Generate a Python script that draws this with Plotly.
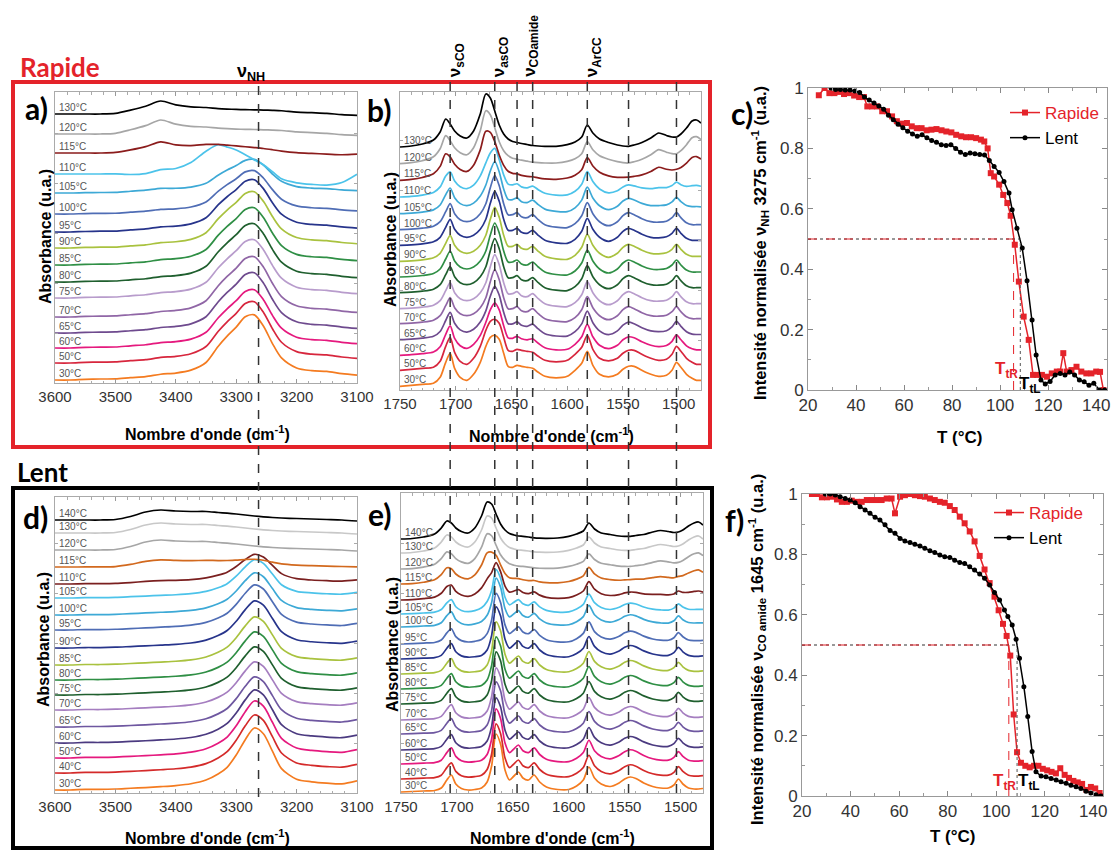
import plotly.graph_objects as go

FIG_W, FIG_H = 1111, 850
FONT = "Liberation Sans, Arial, sans-serif"
TITLE_FONT = "Lato, Liberation Sans, sans-serif"
RED = "#E4232A"

# ---------------- NH stretching region (panels a and d) ----------------
WN_NH = [3600, 3575, 3550, 3525, 3500, 3475, 3450, 3425, 3400, 3375, 3350, 3330,
         3315, 3300, 3285, 3270, 3255, 3240, 3225, 3200, 3175, 3150, 3125, 3100]
NH_BONDED_A = [0, 0, 0.01, 0.015, 0.015, 0.025, 0.03, 0.05, 0.08, 0.13, 0.25, 0.5,
               0.66, 0.8, 0.96, 0.99, 0.82, 0.55, 0.33, 0.18, 0.14, 0.13, 0.1, 0.08]
NH_SHIFT_A = [0, 0, 0, 0, 0, -0.05, -0.05, 0.05, 0.12, 0.35, 0.76, 1.0,
              0.92, 0.82, 0.65, 0.47, 0.3, 0.05, -0.2, -0.33, -0.38, -0.4, -0.3, 0.0]
NH_FREE_A = [0, 0, 0, 0, 0.05, 0.3, 0.6, 1.0, 0.7, 0.55, 0.5, 0.42,
             0.38, 0.35, 0.33, 0.32, 0.3, 0.28, 0.25, 0.15, 0.1, 0.05, -0.05, -0.1]
NH_BONDED_D = [0, 0, 0.01, 0.01, 0.015, 0.02, 0.02, 0.03, 0.05, 0.08, 0.14, 0.24,
               0.35, 0.55, 0.8, 0.99, 0.9, 0.62, 0.34, 0.17, 0.13, 0.11, 0.1, 0.15]
NH_FREE_D = [0, 0, 0, 0, 0.05, 0.35, 0.8, 1.0, 0.9, 0.85, 0.85, 0.75,
             0.68, 0.6, 0.5, 0.4, 0.32, 0.25, 0.2, 0.15, 0.1, 0.05, 0, -0.1]

# ---------------- carbonyl / aromatic region (panels b and e) ----------------
WN_CO = [1750, 1740, 1730, 1720, 1714, 1709, 1705, 1701, 1696, 1690, 1684, 1678,
         1673, 1669, 1665, 1661, 1657, 1653, 1649, 1645, 1641, 1636, 1631, 1626,
         1620, 1610, 1600, 1593, 1587, 1582, 1577, 1571, 1563, 1555, 1550, 1545,
         1540, 1533, 1525, 1518, 1511, 1506, 1502, 1498, 1493, 1488, 1484, 1480]
CO_LOW_B = [0, 0.1, 0.2, 0.3, 0.9, 2.4, 3.3, 1.8, 0.9, 0.6, 1.2, 2.4,
            4.0, 4.9, 5.1, 4.7, 3.3, 2.0, 1.9, 2.1, 2.0, 1.9, 1.8, 1.4,
            1.0, 0.85, 1.0, 1.6, 2.3, 3.5, 2.1, 1.2, 0.95, 1.2, 1.7, 2.0,
            2.0, 1.6, 1.2, 1.0, 1.1, 1.6, 2.4, 1.9, 1.2, 0.8, 0.6, 0.6]
CO_MID_B = [0, 0.05, 0.15, 0.35, 0.8, 1.8, 2.6, 1.6, 1.0, 0.8, 1.0, 1.6,
            2.6, 4.2, 5.4, 4.4, 2.6, 1.5, 1.5, 1.7, 1.3, 1.2, 1.5, 1.0,
            0.5, 0.25, 0.2, 0.6, 1.4, 2.7, 1.6, 0.8, 0.4, 0.8, 1.4, 1.7,
            1.5, 1.1, 0.8, 0.75, 0.85, 1.2, 1.7, 1.2, 0.7, 0.5, 0.5, 0.5]
CO_HIGH_B = [0, 0.1, 0.3, 0.7, 1.5, 2.8, 2.3, 1.6, 1.1, 0.9, 1.6, 3.3,
             5.3, 4.9, 3.6, 2.2, 1.3, 0.8, 0.55, 0.45, 0.35, 0.25, 0.15, 0.1,
             0.07, 0.07, 0.23, 0.5, 1.0, 2.2, 1.4, 0.8, 0.45, 0.2, 0.1, 0.07,
             0.2, 0.45, 0.9, 1.4, 1.15, 1.0, 1.0, 1.3, 1.9, 2.6, 2.7, 2.4]
CO_LOW_E = [0, 0.05, 0.1, 0.15, 0.4, 1.2, 1.7, 0.8, 0.35, 0.2, 0.25, 0.4,
            1.0, 2.6, 5.8, 4.8, 2.2, 1.2, 1.6, 2.0, 1.4, 1.2, 1.7, 1.0,
            0.5, 0.25, 0.25, 0.6, 1.2, 2.5, 1.4, 0.8, 0.55, 0.9, 1.3, 1.5,
            1.35, 0.9, 0.55, 0.4, 0.4, 0.7, 1.3, 0.8, 0.4, 0.3, 0.3, 0.35]
CO_HIGH_E = [0, 0.05, 0.2, 0.5, 1.1, 1.8, 1.6, 1.1, 0.75, 0.6, 1.1, 2.3,
             3.7, 3.5, 2.5, 1.5, 0.9, 0.55, 0.4, 0.3, 0.27, 0.2, 0.12, 0.08,
             0.07, 0.1, 0.27, 0.5, 0.8, 1.6, 1.0, 0.6, 0.45, 0.3, 0.27, 0.27,
             0.35, 0.45, 0.7, 0.85, 0.75, 0.65, 0.7, 0.9, 1.3, 1.6, 1.7, 1.4]

# ---------------- "Rapide" spectra (panels a, b) ----------------
TEMPS_A = [30, 50, 60, 65, 70, 75, 80, 85, 90, 95, 100, 105, 110, 115, 120, 130]
COLORS_A = ["#F47B20", "#D7263D", "#E5197E", "#6E4A8E", "#9066A6", "#B89CCC",
            "#1F5F2E", "#2F8F45", "#A9C23F", "#27348B", "#4F6DB5", "#3DA9D6",
            "#4CC3EA", "#8B1C1C", "#A6A6A6", "#000000"]
OFFSET_A = [0.3, 2.0, 3.5, 5.0, 6.6, 8.5, 10.1, 11.8, 13.5, 15.1, 16.9, 19.0, 20.9, 23.0, 24.9, 26.9]
BONDED_AMP_A = [6.5, 6.1, 5.8, 6.0, 6.0, 5.8, 5.8, 5.7, 5.6, 5.2, 4.3, 3.3, 0.0, 0.0, 0.0, 0.0]
SHIFT_AMP_A = [0, 0, 0, 0, 0, 0, 0, 0, 0, 0, 0, 0, 2.8, 0.4, 0, 0]
FREE_AMP_A = [0.25, 0.25, 0.25, 0.25, 0.25, 0.25, 0.25, 0.25, 0.25, 0.25, 0.25, 0.3, 0.3, 1.1, 1.4, 1.3]
OFFSET_B = [0.37, 1.97, 3.47, 5.03, 6.63, 8.13, 9.73, 11.3, 12.87, 14.47, 16.03, 17.63, 19.3, 20.97, 22.63, 24.3]
W_LOW_B = [1.0, 1.0, 0.5, 0.2, 0, 0, 0, 0, 0, 0, 0, 0, 0, 0, 0, 0]
W_MID_B = [0, 0, 0.5, 0.8, 1, 1, 1, 1, 1, 1, 1, 0.9, 0.7, 0.15, 0, 0]
W_HIGH_B = [0, 0, 0, 0, 0, 0, 0, 0, 0, 0, 0, 0.1, 0.3, 0.85, 1.0, 1.0]

# ---------------- "Lent" spectra (panels d, e) ----------------
TEMPS_D = [30, 40, 50, 60, 65, 70, 75, 80, 85, 90, 95, 100, 105, 110, 115, 120, 130, 140]
COLORS_D = ["#F47B20", "#D42A2A", "#E5197E", "#4B3A80", "#6E57A0", "#A57EC0",
            "#1F5F2E", "#2F8F45", "#A9C23F", "#27348B", "#4F6DB5", "#3DA9D6",
            "#4CC3EA", "#7A1F1F", "#D2691E", "#A6A6A6", "#C8C8C8", "#000000"]
OFFSET_D = [0.3, 2.0, 3.5, 5.0, 6.6, 8.3, 9.8, 11.3, 12.8, 14.5, 16.3, 17.8, 19.5, 20.9, 22.6, 24.3, 26.0, 27.3]
BONDED_AMP_D = [6.2, 5.8, 5.7, 5.3, 5.0, 4.8, 4.8, 4.8, 4.8, 4.7, 4.5, 4.2, 3.8, 2.9, 0.5, 0, 0, 0]
FREE_AMP_D = [0.15, 0.15, 0.15, 0.15, 0.15, 0.15, 0.15, 0.15, 0.15, 0.15, 0.15, 0.15, 0.15, 0.25, 0.7, 1.0, 1.0, 1.0]
OFFSET_E = [0.1, 1.4, 2.9, 4.3, 5.9, 7.3, 8.9, 10.4, 11.9, 13.4, 14.9, 16.6, 17.9, 19.3, 20.9, 22.4, 24.0, 25.4]
W_LOW_E = [1.0, 0.95, 0.95, 0.9, 0.9, 0.9, 0.9, 0.9, 0.9, 0.9, 0.85, 0.8, 0.7, 0.45, 0.15, 0, 0, 0]
W_HIGH_E = [0, 0, 0, 0, 0, 0, 0, 0, 0, 0, 0.05, 0.1, 0.15, 0.45, 0.8, 0.95, 1.0, 1.0]

# ---------------- band markers ----------------
NH_BAND = 3263
CO_BANDS = [1705, 1665, 1645, 1631, 1582, 1545, 1502]
CO_BAND_LABELS = [(1705, "ν<sub>sCO</sub>"), (1665, "ν<sub>asCO</sub>"),
                  (1638, "ν<sub>COamide</sub>"), (1582, "ν<sub>ArCC</sub>")]

# ---------------- normalised intensities (panels c, f) ----------------
T_C_RAPIDE = [24.5, 26.9, 28.9, 31.0, 33.0, 35.0, 37.0, 39.2, 41.3, 43.3, 44.7, 46.7, 48.8, 50.9,
              52.9, 55.0, 57.0, 59.0, 61.2, 63.2, 65.3, 67.3, 69.4, 71.4, 73.5, 75.6, 77.6, 79.7,
              81.7, 83.8, 85.8, 87.9, 90.0, 92.0, 93.4, 94.8, 96.1, 97.5, 99.6, 101.3, 103.0,
              104.4, 106.1, 107.8, 109.8, 111.9, 113.7, 115.3, 117.4, 119.5, 121.5, 123.6, 125.0,
              126.3, 127.7, 129.7, 131.8, 133.8, 135.9, 138.0, 140.0, 141.6, 143.0]
V_C_RAPIDE = [0.976, 1.0, 0.983, 0.983, 0.987, 0.98, 0.983, 0.975, 0.97, 0.97, 0.939, 0.939, 0.939,
              0.923, 0.923, 0.906, 0.89, 0.882, 0.884, 0.873, 0.867, 0.867, 0.86, 0.862, 0.864,
              0.86, 0.856, 0.853, 0.845, 0.84, 0.837, 0.837, 0.834, 0.829, 0.823, 0.8, 0.718, 0.707,
              0.68, 0.646, 0.619, 0.577, 0.481, 0.359, 0.243, 0.166, 0.05, 0.05, 0.05, 0.044, 0.055,
              0.061, 0.061, 0.122, 0.061, 0.066, 0.077, 0.061, 0.055, 0.055, 0.061, 0.06, 0.0]
T_C_LENT = [29.6, 31.5, 33.5, 35.5, 37.5, 39.5, 41.5, 43.5, 45.5, 47.5, 49.5, 51.5, 53.5, 55.5,
            57.5, 59.5, 61.5, 63.5, 65.5, 67.5, 69.5, 71.5, 73.5, 75.5, 77.5, 79.5, 81.5, 83.5,
            85.5, 87.5, 89.5, 91.5, 93.5, 95.5, 97.5, 99.6, 101.6, 103.7, 105.0, 107.0, 109.2,
            111.2, 113.3, 115.0, 117.0, 118.8, 120.8, 122.9, 125.0, 127.0, 129.0, 131.0, 133.0,
            135.0, 137.0, 139.0, 141.4, 143.5]
V_C_LENT = [1.0, 0.995, 0.995, 0.993, 0.993, 0.99, 0.985, 0.97, 0.96, 0.95, 0.94, 0.93, 0.91,
            0.895, 0.88, 0.868, 0.857, 0.848, 0.84, 0.845, 0.835, 0.826, 0.82, 0.812, 0.81, 0.812,
            0.80, 0.787, 0.78, 0.785, 0.782, 0.78, 0.778, 0.76, 0.74, 0.72, 0.69, 0.652, 0.597,
            0.536, 0.47, 0.362, 0.232, 0.116, 0.033, 0.02, 0.028, 0.05, 0.055, 0.05, 0.06, 0.05,
            0.033, 0.027, 0.016, 0.022, 0.0, 0.0]
T_F_RAPIDE = [24.1, 26.2, 28.2, 30.3, 32.3, 34.4, 36.4, 38.5, 40.5, 42.6, 44.6, 46.7, 48.7, 50.8,
              52.8, 54.9, 56.9, 58.3, 60.4, 62.4, 64.5, 66.5, 68.6, 70.6, 72.7, 74.7, 76.8, 78.8,
              80.9, 82.9, 85.0, 87.0, 89.1, 91.1, 93.2, 95.2, 97.3, 99.3, 101.0, 102.8, 104.3,
              105.8, 107.2, 108.6, 110.2, 112.0, 113.8, 115.6, 117.4, 119.2, 121.0, 122.8, 124.6,
              126.4, 128.2, 130.0, 131.8, 133.6, 135.4, 137.2, 139.0, 140.8, 142.6, 143.5]
V_F_RAPIDE = [1.0, 1.0, 0.989, 0.989, 0.991, 0.982, 0.974, 0.974, 0.978, 0.974, 0.974, 0.98, 0.98,
              0.98, 0.98, 0.985, 0.985, 0.936, 0.991, 0.996, 1.0, 0.996, 0.993, 0.991, 0.985, 0.98,
              0.974, 0.971, 0.96, 0.947, 0.925, 0.903, 0.876, 0.843, 0.795, 0.75, 0.705, 0.66,
              0.615, 0.57, 0.53, 0.465, 0.27, 0.145, 0.11, 0.1, 0.095, 0.1, 0.1, 0.09, 0.085, 0.08,
              0.075, 0.092, 0.07, 0.06, 0.05, 0.045, 0.04, 0.02, 0.03, 0.025, 0.01, 0.0]
T_F_LENT = [29.6, 31.6, 33.7, 35.7, 37.8, 39.8, 41.9, 43.9, 46.0, 48.0, 50.1, 52.1, 54.2, 56.3,
            58.3, 60.4, 62.4, 64.5, 66.5, 68.6, 70.6, 72.7, 74.7, 76.8, 78.8, 80.9, 82.9, 85.0,
            87.0, 89.1, 91.1, 93.2, 95.2, 97.3, 99.3, 101.4, 103.4, 104.8, 106.6, 108.2, 109.6,
            111.4, 113.0, 114.8, 116.4, 118.5, 120.5, 122.6, 124.7, 126.7, 128.8, 130.8, 132.9,
            134.9, 137.0, 139.0, 141.1, 143.1]
V_F_LENT = [1.0, 1.0, 0.997, 0.991, 0.985, 0.98, 0.971, 0.958, 0.947, 0.936, 0.923, 0.914, 0.898,
            0.879, 0.87, 0.853, 0.844, 0.839, 0.834, 0.828, 0.82, 0.812, 0.806, 0.798, 0.792, 0.79,
            0.781, 0.773, 0.77, 0.759, 0.748, 0.735, 0.721, 0.699, 0.674, 0.649, 0.616, 0.594,
            0.566, 0.519, 0.456, 0.362, 0.263, 0.147, 0.08, 0.066, 0.064, 0.058, 0.053, 0.047,
            0.042, 0.036, 0.031, 0.025, 0.016, 0.01, 0.004, 0.0]
T_TRANSITION_C = (105.6, 108.4)
T_TRANSITION_F = (105.2, 108.6)


def px(x):
    return x / FIG_W


def py(y):
    return 1 - y / FIG_H


fig = go.Figure()


def add_spectrum(xs, ys, color, ax):
    fig.add_trace(go.Scatter(
        x=xs, y=ys, mode="lines", showlegend=False, hoverinfo="skip",
        line=dict(color=color, width=1.7, shape="spline", smoothing=0.8),
        xaxis="x" + ax, yaxis="y" + ax))


annotations = []


def temp_label(text, x, y, ax):
    annotations.append(dict(text=text, x=x, y=y, xref="x" + ax, yref="y" + ax,
                            showarrow=False, xanchor="left", yanchor="middle",
                            font=dict(family=FONT, size=10, color="#555")))


# panel a
for i, t in enumerate(TEMPS_A):
    ys = [OFFSET_A[i] + BONDED_AMP_A[i] * b + SHIFT_AMP_A[i] * s + FREE_AMP_A[i] * f
          for b, s, f in zip(NH_BONDED_A, NH_SHIFT_A, NH_FREE_A)]
    add_spectrum(WN_NH, ys, COLORS_A[i], "")
    temp_label(f"{t}°C", 3597, OFFSET_A[i] + 0.65, "")
# panel b
for i, t in enumerate(TEMPS_A):
    ys = [OFFSET_B[i] + W_LOW_B[i] * lo + W_MID_B[i] * mi + W_HIGH_B[i] * hi
          for lo, mi, hi in zip(CO_LOW_B, CO_MID_B, CO_HIGH_B)]
    add_spectrum(WN_CO, ys, COLORS_A[i], "2")
    temp_label(f"{t}°C", 1748, OFFSET_B[i] + 0.65, "2")
# panel d
for i, t in enumerate(TEMPS_D):
    ys = [OFFSET_D[i] + BONDED_AMP_D[i] * b + FREE_AMP_D[i] * f
          for b, f in zip(NH_BONDED_D, NH_FREE_D)]
    add_spectrum(WN_NH, ys, COLORS_D[i], "4")
    temp_label(f"{t}°C", 3597, OFFSET_D[i] + 0.65, "4")
# panel e
for i, t in enumerate(TEMPS_D):
    ys = [OFFSET_E[i] + W_LOW_E[i] * lo + W_HIGH_E[i] * hi
          for lo, hi in zip(CO_LOW_E, CO_HIGH_E)]
    add_spectrum(WN_CO, ys, COLORS_D[i], "5")
    temp_label(f"{t}°C", 1748, OFFSET_E[i] + 0.65, "5")


def add_kinetics(t_r, v_r, t_l, v_l, ax, legend):
    fig.add_trace(go.Scatter(
        x=t_r, y=v_r, mode="lines+markers", name=f'<span style="color:{RED}">Rapide</span>',
        line=dict(color=RED, width=1.5), marker=dict(symbol="square", size=6, color=RED),
        xaxis="x" + ax, yaxis="y" + ax, legend=legend))
    fig.add_trace(go.Scatter(
        x=t_l, y=v_l, mode="lines+markers", name="Lent",
        line=dict(color="#000", width=1.5), marker=dict(symbol="circle", size=5, color="#000"),
        xaxis="x" + ax, yaxis="y" + ax, legend=legend))


add_kinetics(T_C_RAPIDE, V_C_RAPIDE, T_C_LENT, V_C_LENT, "3", "legend")
add_kinetics(T_F_RAPIDE, V_F_RAPIDE, T_F_LENT, V_F_LENT, "6", "legend2")

shapes = []
# group frames
shapes.append(dict(type="rect", xref="paper", yref="paper", x0=px(13), x1=px(710),
                   y0=py(447), y1=py(82), line=dict(color=RED, width=4)))
shapes.append(dict(type="rect", xref="paper", yref="paper", x0=px(13), x1=px(712),
                   y0=py(848), y1=py(488), line=dict(color="#000", width=4)))
# band dashed lines
shapes.append(dict(type="line", xref="x", yref="paper", x0=NH_BAND, x1=NH_BAND,
                   y0=py(86), y1=py(797), line=dict(color="#333", width=1.5, dash="dash")))
for wn in CO_BANDS:
    shapes.append(dict(type="line", xref="x2", yref="paper", x0=wn, x1=wn,
                       y0=py(82), y1=py(797), line=dict(color="#333", width=1.5, dash="dash")))
# transition temperature guides
for ax, (ttr, ttl) in (("3", T_TRANSITION_C), ("6", T_TRANSITION_F)):
    shapes.append(dict(type="line", xref="x" + ax, yref="y" + ax, x0=20, x1=ttl, y0=0.5, y1=0.5,
                       line=dict(color="#333", width=1, dash="dot")))
    shapes.append(dict(type="line", xref="x" + ax, yref="y" + ax, x0=20, x1=ttr, y0=0.5, y1=0.5,
                       line=dict(color=RED, width=1, dash="dash")))
    shapes.append(dict(type="line", xref="x" + ax, yref="y" + ax, x0=ttr, x1=ttr, y0=0, y1=0.5,
                       line=dict(color=RED, width=1, dash="dash")))
    shapes.append(dict(type="line", xref="x" + ax, yref="y" + ax, x0=ttl, x1=ttl, y0=0, y1=0.5,
                       line=dict(color="#555", width=1, dash="dot")))


def paper_text(text, x, y, size, color="#000", family=FONT, angle=0, bold=True):
    annotations.append(dict(text=f"<b>{text}</b>" if bold else text, x=px(x), y=py(y),
                            xref="paper", yref="paper", showarrow=False, textangle=angle,
                            xanchor="center", yanchor="middle",
                            font=dict(family=family, size=size, color=color)))


paper_text("Rapide", 60, 67, 26, RED, TITLE_FONT)
paper_text("Lent", 42, 472, 26, "#000", TITLE_FONT)
for lab, x, y in (("a)", 36, 108), ("b)", 379, 110), ("c)", 742, 113),
                  ("d)", 35, 517), ("e)", 380, 514), ("f)", 734, 520)):
    paper_text(lab, x, y, 30, "#000", TITLE_FONT)
paper_text("ν<sub>NH</sub>", 251, 72, 18)
for wn, lab in CO_BAND_LABELS:
    annotations.append(dict(text=f"<b>{lab}</b>", x=wn, y=py(79), xref="x2", yref="paper",
                            showarrow=False, textangle=-90, xanchor="center", yanchor="bottom",
                            xshift=6, font=dict(family=FONT, size=17, color="#000")))
XT = "Nombre d'onde (cm<sup>-1</sup>)"
paper_text(XT, 207, 433, 16)
paper_text(XT, 551, 435, 16)
paper_text(XT, 207, 837, 16)
paper_text(XT, 552, 837, 16)
paper_text("Absorbance (u.a.)", 45, 237, 16, angle=-90)
paper_text("Absorbance (u.a.)", 390, 240, 16, angle=-90)
paper_text("Absorbance (u.a.)", 43, 640, 16, angle=-90)
paper_text("Absorbance (u.a.)", 392, 645, 16, angle=-90)
paper_text("T (°C)", 960, 437, 17)
paper_text("T (°C)", 953, 836, 17)
paper_text("Intensité normalisée ν<sub>NH</sub> 3275 cm<sup>-1</sup> (u.a.)", 760, 243, 16.5, angle=-90)
paper_text("Intensité normalisée ν<sub>CO amide</sub> 1645 cm<sup>-1</sup> (u.a.)", 757, 650, 16.5, angle=-90)

for ax, pos in (("3", [(102.5, 0.065), (112.5, 0.018)]), ("6", [(103.5, 0.045), (113.5, 0.045)])):
    annotations.append(dict(text="<b>T<sub>tR</sub></b>", x=pos[0][0], y=pos[0][1], xref="x" + ax,
                            yref="y" + ax, showarrow=False, xanchor="center", yanchor="middle",
                            font=dict(family=FONT, size=17, color=RED)))
    annotations.append(dict(text="<b>T<sub>tL</sub></b>", x=pos[1][0], y=pos[1][1], xref="x" + ax,
                            yref="y" + ax, showarrow=False, xanchor="center", yanchor="middle",
                            font=dict(family=FONT, size=17, color="#000")))


def spec_xaxis(domain, anchor, rng, tick0, dtick, minor):
    return dict(domain=domain, anchor=anchor, range=rng, tickmode="linear", tick0=tick0, dtick=dtick,
                ticks="inside", ticklen=4, tickcolor="#999", mirror="ticks", showline=True,
                linecolor="#aaa", linewidth=1, showgrid=False, zeroline=False, automargin=False,
                ticklabeloverflow="allow",
                tickfont=dict(family=FONT, size=15, color="#333"),
                minor=dict(ticks="inside", ticklen=2.5, dtick=minor, tickcolor="#aaa"))


def spec_yaxis(domain, anchor, top):
    return dict(domain=domain, anchor=anchor, range=[0, top], showticklabels=False,
                ticks="inside", ticklen=3, dtick=5, tickcolor="#aaa", mirror="ticks",
                showline=True, linecolor="#aaa", linewidth=1, showgrid=False, zeroline=False,
                automargin=False)


def kin_xaxis(domain, anchor, top):
    return dict(domain=domain, anchor=anchor, range=[20, top], tickmode="linear", tick0=20, dtick=20,
                ticks="inside", ticklen=5, tickcolor="#888", mirror="ticks", showline=True,
                linecolor="#999", showgrid=False, zeroline=False, automargin=False,
                ticklabeloverflow="allow",
                tickfont=dict(family=FONT, size=17, color="#333"),
                minor=dict(ticks="inside", ticklen=3, dtick=10, tickcolor="#999"))


def kin_yaxis(domain, anchor):
    return dict(domain=domain, anchor=anchor, range=[0, 1], tickvals=[0, 0.2, 0.4, 0.6, 0.8, 1],
                ticktext=["0", "0.2", "0.4", "0.6", "0.8", "1"], ticks="inside", ticklen=5,
                tickcolor="#888", mirror="ticks", showline=True, linecolor="#999", automargin=False,
                showgrid=False, zeroline=False, tickfont=dict(family=FONT, size=17, color="#333"),
                minor=dict(ticks="inside", ticklen=3, dtick=0.1, tickcolor="#999"))


fig.update_layout(
    width=FIG_W, height=FIG_H, margin=dict(l=0, r=0, t=0, b=0, autoexpand=False),
    paper_bgcolor="white", plot_bgcolor="white",
    xaxis=spec_xaxis([px(55), px(357)], "y", [3600, 3100], 3100, 100, 20),
    yaxis=spec_yaxis([py(383), py(92)], "x", 29.1),
    xaxis2=spec_xaxis([px(400), px(701)], "y2", [1750, 1480], 1500, 50, 10),
    yaxis2=spec_yaxis([py(390), py(92)], "x2", 29.8),
    xaxis3=kin_xaxis([px(808), px(1107)], "y3", 144.5),
    yaxis3=kin_yaxis([py(390), py(88)], "x3"),
    xaxis4=spec_xaxis([px(55), px(357)], "y4", [3600, 3100], 3100, 100, 20),
    yaxis4=spec_yaxis([py(793), py(497)], "x4", 29.6),
    xaxis5=spec_xaxis([px(401), px(703)], "y5", [1750, 1480], 1500, 50, 10),
    yaxis5=spec_yaxis([py(793), py(493)], "x5", 30.0),
    xaxis6=kin_xaxis([px(802), px(1103)], "y6", 144),
    yaxis6=kin_yaxis([py(796), py(494)], "x6"),
    legend=dict(x=px(1104), y=py(95), xanchor="right", yanchor="top", bgcolor="rgba(0,0,0,0)",
                font=dict(family=FONT, size=17, color="#000"), tracegroupgap=0),
    legend2=dict(x=px(1088), y=py(495), xanchor="right", yanchor="top", bgcolor="rgba(0,0,0,0)",
                 font=dict(family=FONT, size=17, color="#000"), tracegroupgap=0),
    shapes=shapes, annotations=annotations,
)

fig.write_html("out.html", config={"displayModeBar": False},
               post_script="document.body.style.margin='0';document.body.style.overflow='hidden';")
